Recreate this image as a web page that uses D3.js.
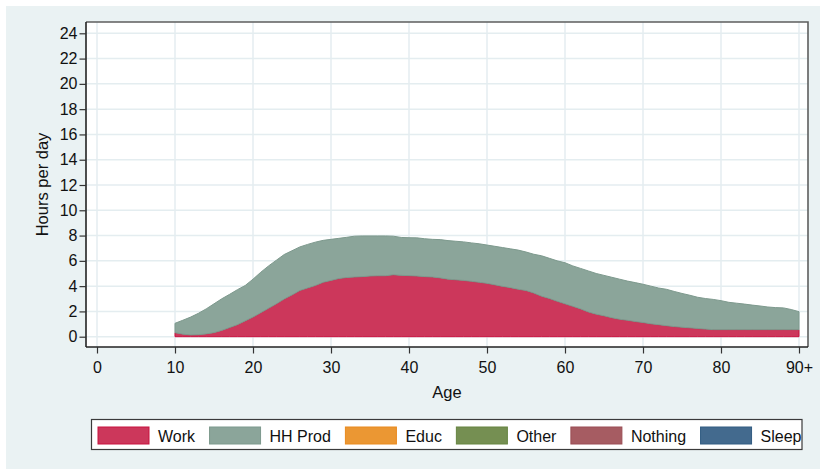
<!DOCTYPE html>
<html>
<head>
<meta charset="utf-8">
<script src="https://cdn.jsdelivr.net/npm/d3@7"></script>
<style>
  html, body { margin: 0; padding: 0; background: #ffffff; }
  svg { display: block; font-family: "Liberation Sans", Arial, Helvetica, sans-serif; }
</style>
</head>
<body>
<svg id="chart" width="820" height="470"></svg>
<script>
// ---------- DATA ----------
const ages = [10,11,12,13,14,15,16,17,18,19,20,21,22,23,24,25,26,27,28,29,30,
  31,32,33,34,35,36,37,38,39,40,41,42,43,44,45,46,47,48,49,50,
  51,52,53,54,55,56,57,58,59,60,61,62,63,64,65,66,67,68,69,70,
  71,72,73,74,75,76,77,78,79,80,81,82,83,84,85,86,87,88,89,90];

const work = [0.32,0.20,0.14,0.16,0.22,0.32,0.50,0.72,0.95,1.25,1.55,
  1.90,2.25,2.60,2.98,3.30,3.65,3.85,4.05,4.30,4.45,
  4.60,4.68,4.72,4.75,4.80,4.82,4.82,4.90,4.85,4.83,
  4.80,4.75,4.72,4.65,4.55,4.50,4.45,4.38,4.30,4.22,
  4.10,3.98,3.88,3.75,3.65,3.45,3.20,3.02,2.80,2.60,
  2.40,2.20,1.95,1.78,1.65,1.50,1.38,1.30,1.20,1.12,
  1.02,0.95,0.87,0.80,0.75,0.70,0.65,0.60,0.56,0.56,
  0.56,0.56,0.56,0.56,0.56,0.56,0.56,0.56,0.56,0.56];

const hhProd = [0.74,1.10,1.41,1.69,1.98,2.28,2.50,2.63,2.77,2.80,3.00,
  3.20,3.35,3.45,3.52,3.50,3.45,3.45,3.43,3.32,3.25,
  3.18,3.18,3.23,3.22,3.17,3.15,3.15,3.05,3.00,3.00,
  3.02,3.00,2.98,3.03,3.05,3.05,3.05,3.04,3.05,3.03,
  3.05,3.07,3.07,3.10,3.05,3.07,3.20,3.18,3.20,3.25,
  3.20,3.20,3.25,3.22,3.20,3.20,3.17,3.10,3.08,3.03,
  2.98,2.90,2.88,2.78,2.67,2.58,2.47,2.42,2.39,2.29,
  2.16,2.09,2.02,1.94,1.87,1.79,1.74,1.72,1.59,1.42];

const seriesNames = ["Work", "HH Prod", "Educ", "Other", "Nothing", "Sleep"];
const seriesFill = ["#cc375b", "#8ba59a", "#eb9733", "#758f52", "#a65c62", "#436a8e"];
const seriesLine = ["#c8123f", "#7d998d", "#e98a1e", "#668441", "#9a4d54", "#325c82"];

const xTicks = [0,10,20,30,40,50,60,70,80,90];
const xTickLabels = ["0","10","20","30","40","50","60","70","80","90+"];
const yTicks = [0,2,4,6,8,10,12,14,16,18,20,22,24];

// ---------- LAYOUT ----------
const svg = d3.select("#chart");
const plot = {left: 86, right: 808, top: 22, bottom: 347};
const FS = 16;

svg.append("rect").attr("x", 6).attr("y", 6).attr("width", 814).attr("height", 463)
  .attr("fill", "#eaf2f3");
svg.append("rect").attr("x", plot.left).attr("y", plot.top)
  .attr("width", plot.right - plot.left).attr("height", plot.bottom - plot.top)
  .attr("fill", "#ffffff");

const x = d3.scaleLinear().domain([0, 90]).range([97, 799]);
const y = d3.scaleLinear().domain([0, 24]).range([336.7, 33.3]);

// gridlines
const grid = svg.append("g");
grid.selectAll(".gy").data(yTicks).enter().append("line")
  .attr("x1", plot.left).attr("x2", plot.right)
  .attr("y1", d => y(d)).attr("y2", d => y(d))
  .attr("stroke", "#e4edf0").attr("stroke-width", 1.5);
grid.selectAll(".gx").data(xTicks).enter().append("line")
  .attr("y1", plot.top).attr("y2", plot.bottom)
  .attr("x1", d => x(d)).attr("x2", d => x(d))
  .attr("stroke", "#e4edf0").attr("stroke-width", 1.5);

// stacked areas
const rows = ages.map((a, i) => ({age: a, "Work": work[i], "HH Prod": hhProd[i]}));
const stacked = d3.stack().keys(["Work", "HH Prod"])(rows);
const area = d3.area()
  .x(d => x(d.data.age))
  .y0(d => y(d[0]))
  .y1(d => y(d[1]));
svg.append("g").selectAll("path").data(stacked).enter().append("path")
  .attr("d", area)
  .attr("fill", (d, i) => seriesFill[i])
  .attr("stroke", (d, i) => seriesLine[i])
  .attr("stroke-width", 1)
  .attr("stroke-linejoin", "round");

// frame: top & right
svg.append("path")
  .attr("d", `M${plot.left},${plot.top}H${plot.right}V${plot.bottom}`)
  .attr("fill", "none").attr("stroke", "#5e5e5e").attr("stroke-width", 1.6);

// axes
const yAxis = d3.axisLeft(y).tickValues(yTicks).tickSize(6.5).tickPadding(2);
const gy = svg.append("g").attr("transform", `translate(${plot.left},0)`).call(yAxis);
gy.select(".domain").attr("d", `M0,${plot.top}V${plot.bottom}`).attr("stroke", "#222").attr("stroke-width", 1.6);
gy.selectAll(".tick line").attr("stroke", "#333").attr("stroke-width", 1.2);
gy.selectAll(".tick text").attr("font-size", FS).attr("fill", "#111")
  .attr("font-family", "Liberation Sans, Arial, sans-serif");

const xAxis = d3.axisBottom(x).tickValues(xTicks).tickSize(6.5).tickPadding(8)
  .tickFormat((d, i) => xTickLabels[i]);
const gx = svg.append("g").attr("transform", `translate(0,${plot.bottom})`).call(xAxis);
gx.select(".domain").attr("d", `M${plot.left},0H${plot.right}`).attr("stroke", "#222").attr("stroke-width", 1.6);
gx.selectAll(".tick line").attr("stroke", "#333").attr("stroke-width", 1.2);
gx.selectAll(".tick text").attr("font-size", FS).attr("fill", "#111")
  .attr("font-family", "Liberation Sans, Arial, sans-serif");

// axis titles
svg.append("text").attr("x", (plot.left + plot.right) / 2 + 0).attr("y", 397.5)
  .attr("text-anchor", "middle").attr("font-size", 16.5).attr("fill", "#111").text("Age");
svg.append("text").attr("transform", `translate(47.5,${(plot.top + plot.bottom) / 2}) rotate(-90)`)
  .attr("text-anchor", "middle").attr("font-size", 16.5).attr("fill", "#111").text("Hours per day");

// legend
const lg = svg.append("g");
lg.append("rect").attr("x", 91.5).attr("y", 419.5).attr("width", 710.5).attr("height", 30)
  .attr("fill", "#ffffff").attr("stroke", "#3a3a3a").attr("stroke-width", 1.2);
let cx = 98;
seriesNames.forEach((name, i) => {
  lg.append("rect").attr("x", cx).attr("y", 427).attr("width", 51).attr("height", 17)
    .attr("fill", seriesFill[i]).attr("stroke", seriesLine[i]).attr("stroke-width", 1);
  const t = lg.append("text").attr("x", cx + 60).attr("y", 441.5)
    .attr("font-size", FS).attr("fill", "#111").text(name);
  const w = t.node().getComputedTextLength();
  cx = cx + 60 + w + 14.5;
});
</script>
</body>
</html>
